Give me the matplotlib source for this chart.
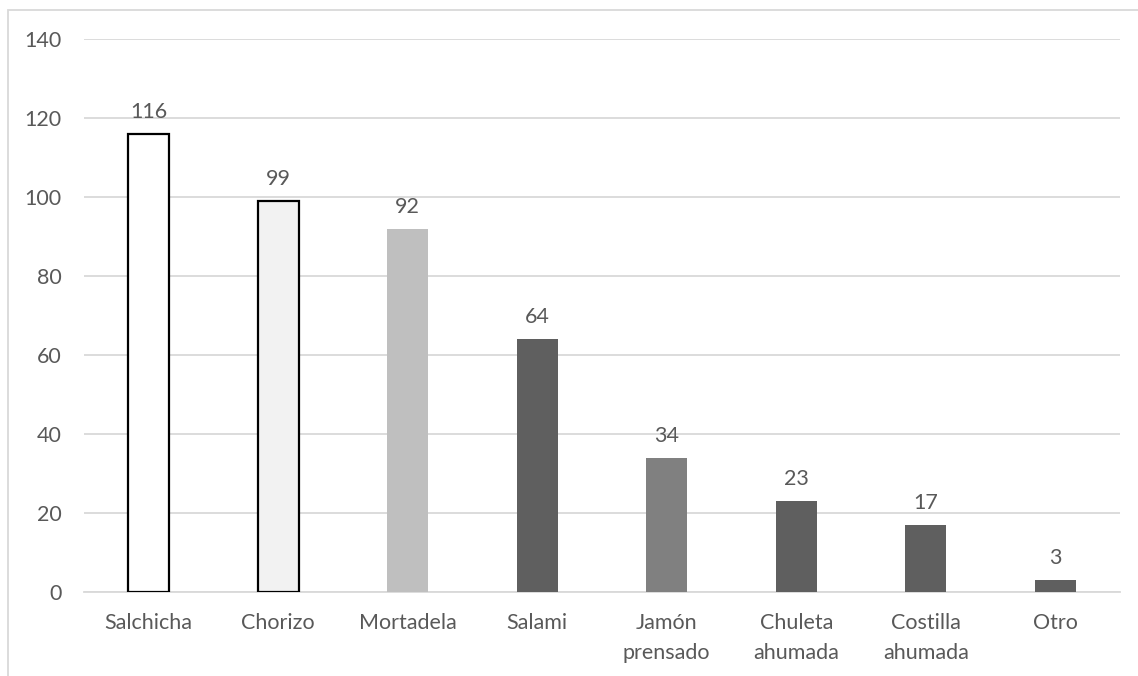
import matplotlib
matplotlib.use("Agg")
import matplotlib.pyplot as plt
from matplotlib.patches import Rectangle

categories = ["Salchicha", "Chorizo", "Mortadela", "Salami", "Jamón\nprensado",
              "Chuleta\nahumada", "Costilla\nahumada", "Otro"]
values = [116, 99, 92, 64, 34, 23, 17, 3]
fills = ["#FFFFFF", "#F2F2F2", "#BFBFBF", "#5F5F5F", "#808080", "#5F5F5F", "#5F5F5F", "#5F5F5F"]
edges = ["#000000", "#000000", "none", "none", "none", "none", "none", "none"]

TEXT = "#595959"
GRID = "#D9D9D9"
FS = 15.5

plt.rcParams["font.family"] = ["Lato", "DejaVu Sans"]

fig = plt.figure(figsize=(11.38, 6.76), dpi=100)
fig.patch.set_facecolor("white")

# outer chart frame (top and left edges visible)
W, H = 1138, 676
fig.add_artist(Rectangle((8 / W, -0.1), 1.2, 1 - 10 / H + 0.1, transform=fig.transFigure,
                         facecolor="none", edgecolor=GRID, linewidth=1.3))

ax = fig.add_axes([84 / W, 1 - 592 / H, (1120 - 84) / W, (592 - 39) / H])
x = list(range(len(categories)))
ax.bar(x, values, width=0.32, color=fills, edgecolor=edges, linewidth=1.6, zorder=3)

for xi, v in zip(x, values):
    ax.text(xi, v + 3.0, str(v), ha="center", va="bottom", fontsize=FS, color=TEXT)

ax.set_xlim(-0.5, len(categories) - 0.5)
ax.set_ylim(0, 140)
ax.set_yticks(range(0, 141, 20))
ax.set_xticks(x)
ax.set_xticklabels(categories, linespacing=1.65)
ax.tick_params(axis="both", length=0, labelsize=FS, labelcolor=TEXT)
ax.tick_params(axis="y", pad=16)
ax.tick_params(axis="x", pad=15)

ax.grid(axis="y", color=GRID, linewidth=1.3, zorder=0)
for side in ["top", "right", "left"]:
    ax.spines[side].set_visible(False)
ax.spines["bottom"].set_color(GRID)
ax.spines["bottom"].set_linewidth(1.3)

fig.savefig("out.png", dpi=100, facecolor="white")
